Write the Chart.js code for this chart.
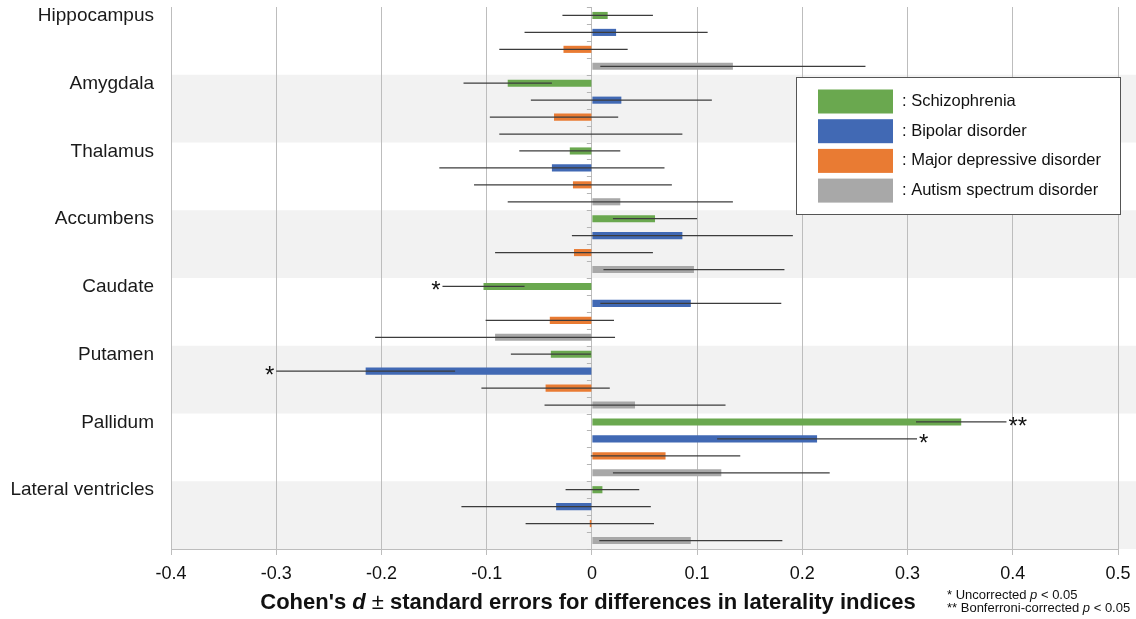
<!DOCTYPE html>
<html>
<head>
<meta charset="utf-8">
<script src="https://cdn.jsdelivr.net/npm/chart.js@4.4.1/dist/chart.umd.min.js"></script>
<style>
  html, body { margin: 0; padding: 0; background: #fff; }
  #wrap { width: 1136px; height: 619px; position: relative; }
</style>
</head>
<body>
<div id="wrap"><canvas id="chart"></canvas></div>
<script>
// regions, top to bottom
const regions = ["Hippocampus", "Amygdala", "Thalamus", "Accumbens", "Caudate", "Putamen", "Pallidum", "Lateral ventricles"];
const seriesNames = ["Schizophrenia", "Bipolar disorder", "Major depressive disorder", "Autism spectrum disorder"];
const seriesColors = ["#6aa84f", "#4169b4", "#e97b33", "#a8a8a8"];

// Cohen's d and standard errors
const szD = [0.015, -0.080, -0.021, 0.060, -0.103, -0.039, 0.351, 0.010];
const szSE = [0.043, 0.042, 0.048, 0.040, 0.039, 0.038, 0.043, 0.035];
const bdD = [0.023, 0.028, -0.038, 0.086, 0.094, -0.215, 0.214, -0.034];
const bdSE = [0.087, 0.086, 0.107, 0.105, 0.086, 0.085, 0.095, 0.090];
const mddD = [-0.027, -0.036, -0.018, -0.017, -0.040, -0.044, 0.070, -0.002];
const mddSE = [0.061, 0.061, 0.094, 0.075, 0.061, 0.061, 0.071, 0.061];
const asdD = [0.134, -0.001, 0.027, 0.097, -0.092, 0.041, 0.123, 0.094];
const asdSE = [0.126, 0.087, 0.107, 0.086, 0.114, 0.086, 0.103, 0.087];

// significance marks
const szSig = ["", "", "", "", "*", "", "**", ""];
const bdSig = ["", "", "", "", "", "*", "*", ""];
const mddSig = ["", "", "", "", "", "", "", ""];
const asdSig = ["", "", "", "", "", "", "", ""];

const xTickLabels = ["-0.4", "-0.3", "-0.2", "-0.1", "0", "0.1", "0.2", "0.3", "0.4", "0.5"];

const allD = [szD, bdD, mddD, asdD];
const allSE = [szSE, bdSE, mddSE, asdSE];
const allSig = [szSig, bdSig, mddSig, asdSig];

const FONT = "'Liberation Sans', Arial, Helvetica, sans-serif";
Chart.defaults.font.family = FONT;

// grey bands behind every second region, plus region names on the left
const bandsPlugin = {
  id: "bands",
  beforeDraw(chart) {
    const { ctx, chartArea, scales } = chart;
    const y = scales.y;
    const h = y.getPixelForValue(1) - y.getPixelForValue(0);
    ctx.save();
    ctx.fillStyle = "#ffffff";
    ctx.fillRect(0, 0, chart.width, chart.height);
    ctx.fillStyle = "#f2f2f2";
    regions.forEach((r, i) => {
      if (i % 2 === 1) {
        const top = y.getPixelForValue(i) - h / 2;
        ctx.fillRect(chartArea.left, top, chart.width - chartArea.left, h);
      }
    });
    ctx.fillStyle = "#1a1a1a";
    ctx.font = "19px " + FONT;
    ctx.textAlign = "right";
    ctx.textBaseline = "middle";
    regions.forEach((r, i) => {
      const top = y.getPixelForValue(i) - h / 2;
      ctx.fillText(r, chartArea.left - 17, top + 9);
    });
    ctx.restore();
  },
  afterDatasetsDraw(chart) {
    const { ctx, scales } = chart;
    const x = scales.x, y = scales.y;
    const h = y.getPixelForValue(1) - y.getPixelForValue(0);
    const x0 = x.getPixelForValue(0);
    ctx.save();
    // little ticks on the zero line between bars
    ctx.strokeStyle = "#b5b5b5";
    ctx.lineWidth = 1;
    regions.forEach((r, i) => {
      const top = y.getPixelForValue(i) - h / 2;
      for (let k = 0; k <= 4; k++) {
        const yy = Math.round(top + k * h / 4) + 0.5;
        ctx.beginPath();
        ctx.moveTo(x0 - 5, yy);
        ctx.lineTo(x0, yy);
        ctx.stroke();
      }
    });
    // error bars
    ctx.strokeStyle = "#3c3c3c";
    ctx.lineWidth = 1.3;
    allD.forEach((d, s) => {
      const meta = chart.getDatasetMeta(s);
      meta.data.forEach((el, j) => {
        const lo = x.getPixelForValue(d[j] - allSE[s][j]);
        const hi = x.getPixelForValue(d[j] + allSE[s][j]);
        ctx.beginPath();
        ctx.moveTo(lo, el.y);
        ctx.lineTo(hi, el.y);
        ctx.stroke();
        const mark = allSig[s][j];
        if (mark) {
          ctx.fillStyle = "#111";
          ctx.font = "24px " + FONT;
          ctx.textBaseline = "middle";
          if (d[j] < 0) {
            ctx.textAlign = "right";
            ctx.fillText(mark, lo - 2, el.y + 5);
          } else {
            ctx.textAlign = "left";
            ctx.fillText(mark, hi + 2, el.y + 5);
          }
        }
      });
    });
    ctx.restore();
  },
  afterDraw(chart) {
    const { ctx } = chart;
    ctx.save();
    // legend box
    ctx.fillStyle = "#ffffff";
    ctx.fillRect(796, 77, 324, 137);
    ctx.strokeStyle = "#555";
    ctx.lineWidth = 1;
    ctx.strokeRect(796.5, 77.5, 324, 137);
    ctx.font = "16.5px " + FONT;
    ctx.textAlign = "left";
    ctx.textBaseline = "middle";
    seriesNames.forEach((n, i) => {
      const top = 89.5 + i * 29.7;
      ctx.fillStyle = seriesColors[i];
      ctx.fillRect(818, top, 75, 24);
      ctx.fillStyle = "#111";
      ctx.fillText(": " + n, 902, top + 12);
    });
    // axis title with italic d
    const parts = [
      ["Cohen's ", "bold 22px " + FONT],
      ["d", "italic bold 22px " + FONT],
      [" \u00b1 ", "22px " + FONT],
      ["standard errors for differences in laterality indices", "bold 22px " + FONT]
    ];
    let total = 0;
    parts.forEach(p => { ctx.font = p[1]; total += ctx.measureText(p[0]).width; });
    let cx = 588 - total / 2;
    ctx.fillStyle = "#111";
    parts.forEach(p => {
      ctx.font = p[1];
      ctx.fillText(p[0], cx, 603);
      cx += ctx.measureText(p[0]).width;
    });
    // footnotes
    const notes = [["* Uncorrected ", 595], ["** Bonferroni-corrected ", 608]];
    notes.forEach(nt => {
      let nx = 947;
      ctx.font = "13px " + FONT;
      ctx.fillText(nt[0], nx, nt[1]);
      nx += ctx.measureText(nt[0]).width;
      ctx.font = "italic 13px " + FONT;
      ctx.fillText("p", nx, nt[1]);
      nx += ctx.measureText("p").width;
      ctx.font = "13px " + FONT;
      ctx.fillText(" < 0.05", nx, nt[1]);
    });
    ctx.restore();
  }
};

const datasets = seriesNames.map((name, i) => ({
  label: name,
  data: allD[i],
  backgroundColor: seriesColors[i],
  borderWidth: 0,
  categoryPercentage: 1.0,
  barPercentage: 0.42
}));

new Chart(document.getElementById("chart"), {
  type: "bar",
  data: { labels: regions, datasets: datasets },
  options: {
    indexAxis: "y",
    responsive: true,
    maintainAspectRatio: false,
    animation: false,
    layout: { padding: { left: 171, right: 18, top: 7, bottom: 0 } },
    plugins: { legend: { display: false }, tooltip: { enabled: false } },
    scales: {
      x: {
        min: -0.4,
        max: 0.5,
        ticks: {
          stepSize: 0.1,
          color: "#111",
          font: { size: 18 },
          padding: 8,
          callback: (v, i) => xTickLabels[i]
        },
        grid: { color: "#bdbdbd", lineWidth: 1, tickLength: 6 },
        border: { color: "#bdbdbd" },
        afterFit: (scale) => {
          scale.height = 70;
          scale.paddingLeft = 0;
          scale.paddingRight = 0;
        }
      },
      y: { display: false }
    }
  },
  plugins: [bandsPlugin]
});
</script>
</body>
</html>
